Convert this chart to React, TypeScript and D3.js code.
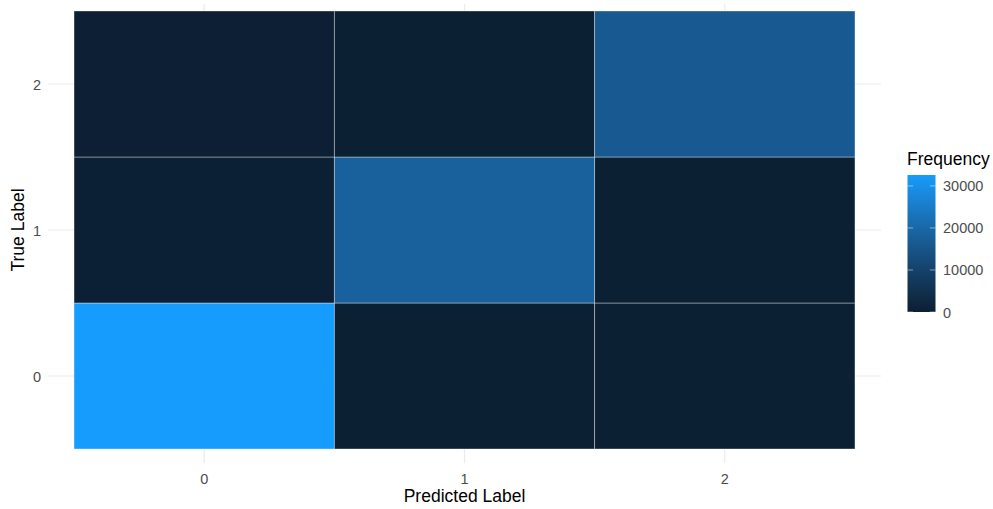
import React from "react";
import * as d3 from "d3";

const predictedLabels = ["0", "1", "2"];
const trueLabels = ["0", "1", "2"];
// frequency[trueIndex][predictedIndex]
const frequencyRow0 = [32600, 260, 180];
const frequencyRow1 = [310, 18100, 240];
const frequencyRow2 = [150, 220, 16250];
const legendTicks = [0, 10000, 20000, 30000];

const W = 993;
const H = 509;
const panel = { left: 48, right: 881, top: -3.6, bottom: 463.6 };
const legend = { x: 907.5, y: 175, w: 28, h: 137 };
const lowColor = "#0c1f33";
const highColor = "#169cfc";
const font = "'Liberation Sans', Arial, Helvetica, sans-serif";

export default function App() {
  const rows = [frequencyRow0, frequencyRow1, frequencyRow2];
  const cells = rows.flatMap((row, ti) =>
    row.map((v, pi) => ({ t: trueLabels[ti], p: predictedLabels[pi], v }))
  );
  const all = cells.map((c) => c.v);
  const vmin = 0;
  const vmax = d3.max(all) as number;

  // discrete scale with ggplot-style 0.6 unit expansion
  const x = d3
    .scalePoint<string>()
    .domain(predictedLabels)
    .range([panel.left, panel.right])
    .padding(0.6);
  const y = d3
    .scalePoint<string>()
    .domain(trueLabels)
    .range([panel.bottom, panel.top])
    .padding(0.6);
  const cw = x.step();
  const ch = y.step();

  const color = d3
    .scaleLinear<string>()
    .domain([vmin, vmax])
    .range([lowColor, highColor])
    .interpolate(d3.interpolateLab);

  const ly = d3
    .scaleLinear()
    .domain([vmin, vmax])
    .range([legend.y + legend.h, legend.y]);

  const gradStops = d3.range(0, 1.0001, 0.05);

  return (
    <svg
      width={W}
      height={H}
      style={{ position: "absolute", left: 0, top: 0, background: "#fff" }}
      fontFamily={font}
    >
      <defs>
        <linearGradient id="freqGrad" x1="0" y1="1" x2="0" y2="0">
          {gradStops.map((s) => (
            <stop
              key={s}
              offset={s}
              stopColor={color(vmin + s * (vmax - vmin))}
            />
          ))}
        </linearGradient>
        <clipPath id="panelClip">
          <rect x={panel.left} y={4} width={panel.right - panel.left} height={panel.bottom - 4} />
        </clipPath>
      </defs>

      {/* major grid lines */}
      <g clipPath="url(#panelClip)" stroke="#ebebeb" strokeWidth={1.2}>
        {predictedLabels.map((p) => (
          <line key={p} x1={x(p)} x2={x(p)} y1={panel.top} y2={panel.bottom} />
        ))}
        {trueLabels.map((t) => (
          <line key={t} x1={panel.left} x2={panel.right} y1={y(t)} y2={y(t)} />
        ))}
      </g>

      {/* tiles */}
      <g>
        {cells.map((c) => (
          <rect
            key={c.t + "-" + c.p}
            x={(x(c.p) as number) - cw / 2}
            y={(y(c.t) as number) - ch / 2}
            width={cw}
            height={ch}
            fill={color(c.v)}
            stroke="#ffffff"
            strokeOpacity={0.45}
            strokeWidth={0.8}
          />
        ))}
      </g>

      {/* axis tick labels */}
      <g fontSize={14.5} fill="#4d4d4d">
        {predictedLabels.map((p) => (
          <text key={p} x={x(p)} y={483.5} textAnchor="middle">
            {p}
          </text>
        ))}
        {trueLabels.map((t) => (
          <text key={t} x={41} y={(y(t) as number) + 5.5} textAnchor="end">
            {t}
          </text>
        ))}
      </g>

      {/* axis titles */}
      <text x={(panel.left + panel.right) / 2} y={502} textAnchor="middle" fontSize={17.5} fill="#000">
        Predicted Label
      </text>
      <text
        transform={`translate(24, ${(panel.top + panel.bottom) / 2}) rotate(-90)`}
        textAnchor="middle"
        fontSize={17.5}
        fill="#000"
      >
        True Label
      </text>

      {/* colour bar legend */}
      <text x={907} y={164.5} fontSize={17.5} fill="#000">
        Frequency
      </text>
      <rect x={legend.x} y={legend.y} width={legend.w} height={legend.h} fill="url(#freqGrad)" />
      <g stroke="#ffffff" strokeOpacity={0.6} strokeWidth={0.8}>
        {legendTicks.map((v) => (
          <g key={v}>
            <line x1={legend.x} x2={legend.x + 5.6} y1={ly(v)} y2={ly(v)} />
            <line x1={legend.x + legend.w - 5.6} x2={legend.x + legend.w} y1={ly(v)} y2={ly(v)} />
          </g>
        ))}
      </g>
      <g fontSize={14.5} fill="#4d4d4d">
        {legendTicks.map((v) => (
          <text key={v} x={943} y={ly(v) + 5.5}>
            {v}
          </text>
        ))}
      </g>
    </svg>
  );
}
